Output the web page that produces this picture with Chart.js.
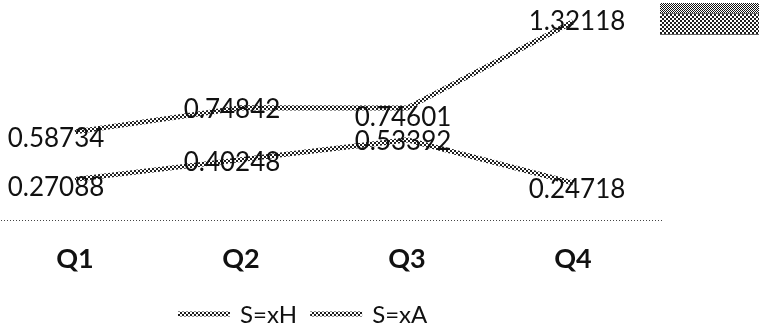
<!DOCTYPE html>
<html>
<head>
<meta charset="utf-8">
<script src="https://cdn.jsdelivr.net/npm/chart.js@4.4.1/dist/chart.umd.min.js"></script>
<style>
  html, body { margin: 0; padding: 0; background: #fff; overflow: hidden; }
  #wrap { position: absolute; left: -8px; top: 0; width: 767px; height: 332px; }
</style>
</head>
<body>
<div id="wrap"><canvas id="chart"></canvas></div>
<script>
// Quarterly values for the two series
const categories = ['Q1', 'Q2', 'Q3', 'Q4'];
const seriesNames = ['S=xH', 'S=xA'];
const valuesH = [0.58734, 0.74842, 0.74601, 1.32118];
const valuesA = [0.27088, 0.40248, 0.53392, 0.24718];

const FONT = 'Lato, "Liberation Sans", sans-serif';

// Dithered grey stroke used for both lines
function checkerPattern(cell, dark, light) {
  const c = document.createElement('canvas');
  c.width = cell * 2; c.height = cell * 2;
  const g = c.getContext('2d');
  g.fillStyle = light; g.fillRect(0, 0, c.width, c.height);
  g.fillStyle = dark;
  g.fillRect(0, 0, cell, cell);
  g.fillRect(cell, cell, cell, cell);
  return g.createPattern(c, 'repeat');
}
const linePattern = checkerPattern(2, '#1e1e1e', '#ffffff');
const boxPattern = checkerPattern(2, '#1e1e1e', '#ffffff');
const boxPatternFine = checkerPattern(1, '#111111', '#ffffff');

// Dotted category axis line along the bottom of the plot
const dottedAxisPlugin = {
  id: 'dottedAxis',
  beforeDatasetsDraw(chart, args, opts) {
    const x = chart.scales.x;
    const ctx = chart.ctx;
    const y = Math.round(x.top) + 0.5;
    ctx.save();
    ctx.strokeStyle = opts.color;
    ctx.lineWidth = 1;
    ctx.setLineDash([1, 2]);
    ctx.beginPath();
    ctx.moveTo(x.left, y);
    ctx.lineTo(x.right + 6, y);
    ctx.stroke();
    ctx.restore();
  }
};

// Value labels next to each point
const labelPlugin = {
  id: 'valueLabels',
  afterDatasetsDraw(chart, args, opts) {
    const ctx = chart.ctx;
    ctx.save();
    ctx.font = opts.font;
    ctx.fillStyle = opts.color;
    ctx.textAlign = 'center';
    ctx.textBaseline = 'middle';
    chart.data.datasets.forEach((ds, di) => {
      const meta = chart.getDatasetMeta(di);
      meta.data.forEach((pt, i) => {
        const dx = opts.dx[i];
        const dy = opts.dy[di][i];
        ctx.fillText(String(ds.data[i]), pt.x + dx, pt.y + dy);
      });
    });
    ctx.restore();
  }
};

// Legend row beneath the axis, plus the hatched box in the corner
const legendPlugin = {
  id: 'sideLegend',
  afterDraw(chart, args, opts) {
    const ctx = chart.ctx;
    ctx.save();
    // hatched corner box
    ctx.fillStyle = boxPatternFine;
    ctx.fillRect(668, 3, 100, 10);
    ctx.fillStyle = boxPattern;
    ctx.fillRect(668, 14, 100, 20);
    ctx.fillStyle = '#666';
    ctx.fillRect(668, 34, 100, 1);
    ctx.fillRect(668, 13, 100, 1);

    ctx.font = opts.font;
    ctx.fillStyle = opts.color;
    ctx.textBaseline = 'middle';
    ctx.textAlign = 'left';
    let x = opts.x;
    const y = opts.y;
    chart.data.datasets.forEach((ds) => {
      ctx.strokeStyle = ds.borderColor;
      ctx.lineWidth = 5;
      ctx.beginPath();
      ctx.moveTo(x, y);
      ctx.lineTo(x + 52, y);
      ctx.stroke();
      x += 62;
      ctx.fillText(ds.label, x, y + 1);
      x += ctx.measureText(ds.label).width + 13;
    });
    ctx.restore();
  }
};

new Chart(document.getElementById('chart'), {
  type: 'line',
  data: {
    labels: categories,
    datasets: [
      { label: seriesNames[0], data: valuesH, borderColor: linePattern, borderWidth: 5, pointRadius: 0, tension: 0, fill: false },
      { label: seriesNames[1], data: valuesA, borderColor: linePattern, borderWidth: 5, pointRadius: 0, tension: 0, fill: false }
    ]
  },
  options: {
    responsive: true,
    maintainAspectRatio: false,
    animation: false,
    layout: { padding: { top: 10, right: 103, left: 0, bottom: 0 } },
    plugins: {
      legend: { display: false },
      tooltip: { enabled: false },
      dottedAxis: { color: '#444' },
      valueLabels: {
        font: '26px ' + FONT,
        color: '#111',
        dx: [-19, -9, -4, 4],
        dy: [[7, 2, 10, 0], [8, 3, 2, 7]]
      },
      sideLegend: {
        font: '24px ' + FONT,
        color: '#111',
        x: 186,
        y: 314
      }
    },
    scales: {
      x: {
        offset: true,
        grid: { display: false, drawTicks: false },
        border: { display: false },
        ticks: { color: '#111', font: { family: FONT, size: 27, weight: 'bold' }, padding: 23 },
        afterFit(scale) { scale.height = 112; }
      },
      y: {
        display: false,
        min: 0,
        max: 1.4
      }
    }
  },
  plugins: [dottedAxisPlugin, labelPlugin, legendPlugin]
});
</script>
</body>
</html>
